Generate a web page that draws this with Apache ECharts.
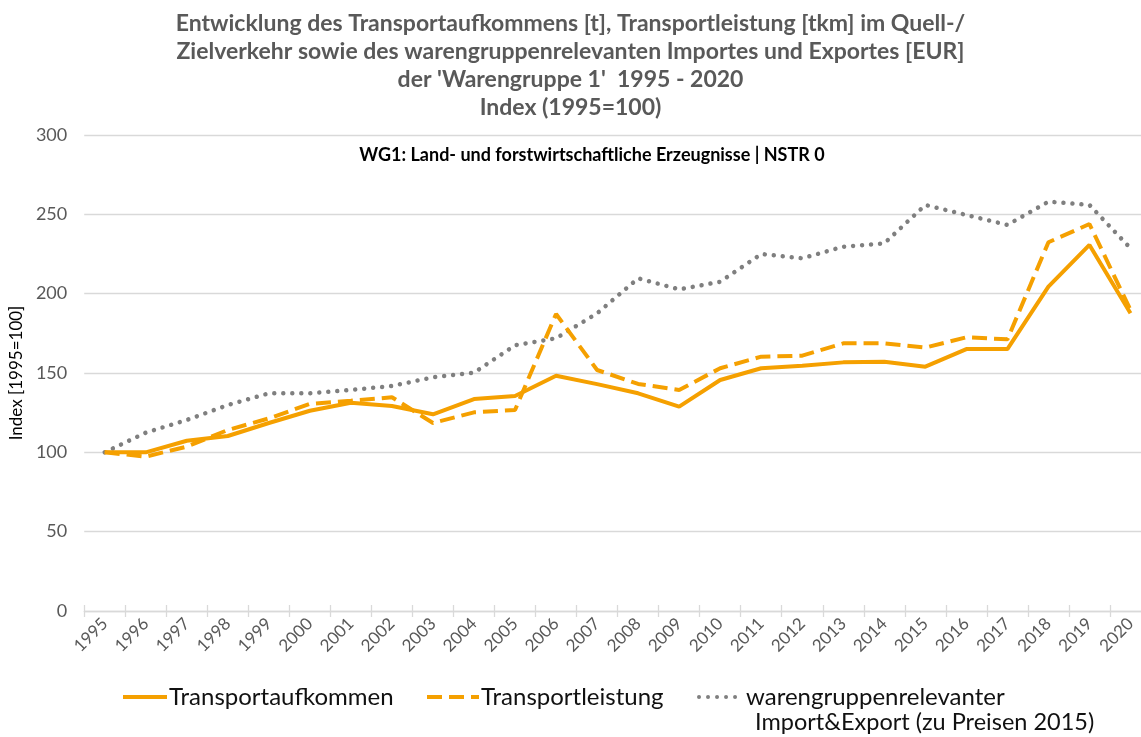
<!DOCTYPE html>
<html>
<head>
<meta charset="utf-8">
<script src="https://cdn.jsdelivr.net/npm/echarts@6/dist/echarts.min.js"></script>
<style>html,body{margin:0;padding:0;background:#fff;overflow:hidden;width:1141px;height:737px}#c{width:1151px;height:737px}</style>
</head>
<body>
<div id="c"></div>
<script>
const years = ['1995','1996','1997','1998','1999','2000','2001','2002','2003','2004','2005','2006','2007','2008','2009','2010','2011','2012','2013','2014','2015','2016','2017','2018','2019','2020'];
const transportaufkommen = [100,100,107.3,110.3,118.5,126.2,131.3,129.2,124,133.6,135.5,148.3,143,137.2,128.8,145.6,153,154.6,156.7,157.1,154,165.1,165.1,204.4,230.7,187.6];
const transportleistung = [100,97.3,103.6,114.1,121.4,130.5,132.5,134.7,118.5,125.2,126.7,187.2,151.9,143.1,139.3,153,160.3,160.9,168.7,168.7,166,172.5,171.2,232.4,243.9,189.7];
const importExport = [100,112.4,120.4,129.8,137.2,137.2,139.3,141.8,147.3,150.2,167.5,171.9,187.6,209.7,202.7,207.5,225,222.3,229.6,231.7,255.9,249.6,243.3,258,255.9,228.6];
const yTicks = [0,50,100,150,200,250,300];
const titleText = "Entwicklung des Transportaufkommens [t], Transportleistung [tkm] im Quell-/\nZielverkehr sowie des warengruppenrelevanten Importes und Exportes [EUR]\nder 'Warengruppe 1'  1995 - 2020\nIndex (1995=100)";
const subtitleText = 'WG1: Land- und forstwirtschaftliche Erzeugnisse | NSTR 0';

const ORANGE = '#F5A000';
const GREY = '#7F7F7F';
const FONT = 'Lato';
const name1 = 'Transportaufkommen';
const name2 = 'Transportleistung';
const name3 = 'warengruppenrelevanter Import&Export (zu Preisen 2015)';

const chart = echarts.init(document.getElementById('c'), null, {renderer:'canvas'});
const legendBase = {
  orient:'horizontal', top: 680, itemHeight: 14, itemGap: 0,
  textStyle:{fontFamily:FONT, fontSize:24, color:'#111', padding:[0,0,0,-3]},
  itemStyle:{opacity:0},
  selectedMode:false
};
chart.setOption({
  animation:false,
  textStyle:{fontFamily:FONT},
  graphic:[
    {type:'text', x:570.5, y:10, style:{text:titleText, fontFamily:FONT, fontWeight:'bold', fontSize:23, fill:'#595959', lineHeight:28, align:'center', verticalAlign:'top'}},
    {type:'text', x:592, y:155, style:{text:subtitleText, fontFamily:FONT, fontWeight:'bold', fontSize:18, fill:'#000', align:'center', verticalAlign:'middle'}},
    {type:'text', x:755, y:722, style:{text:'Import&Export (zu Preisen 2015)', fontFamily:FONT, fontSize:23.5, fill:'#111', align:'left', verticalAlign:'middle'}}
  ],
  legend:[
    Object.assign({}, legendBase, {left:116, itemWidth:44, data:[name1], lineStyle:{width:4}}),
    Object.assign({}, legendBase, {left:420, itemWidth:52, data:[name2], lineStyle:{width:4}}),
    Object.assign({}, legendBase, {left:692, itemWidth:45, data:[name3], lineStyle:{width:4}, formatter:()=> 'warengruppenrelevanter'})
  ],
  grid:{left:76.7, top:135, right:0, bottom:126, containLabel:false},
  xAxis:[{
    type:'category', data:years, boundaryGap:true,
    axisLine:{lineStyle:{color:'#D9D9D9', width:1.3}},
    axisTick:{show:true, length:6, lineStyle:{color:'#D9D9D9', width:1.3}, alignWithLabel:false},
    axisLabel:{rotate:45, interval:0, margin:10, fontFamily:FONT, fontSize:17, color:'#595959'}
  },{
    type:'category', data:years, boundaryGap:true, position:'bottom',
    axisLine:{show:false}, axisLabel:{show:false}, splitLine:{show:false},
    axisTick:{show:true, inside:true, length:6, lineStyle:{color:'#D9D9D9', width:1.3}}
  }],
  yAxis:{
    type:'value', min:0, max:300, interval:50,
    name:'Index [1995=100]', nameLocation:'middle', nameGap:55,
    nameTextStyle:{fontFamily:FONT, fontSize:17, color:'#000'},
    axisLine:{show:false}, axisTick:{show:false},
    axisLabel:{fontFamily:FONT, fontSize:18, color:'#595959', margin:17,
      formatter:(v)=> yTicks.indexOf(v) >= 0 ? String(v) : ''},
    splitLine:{lineStyle:{color:'#D9D9D9', width:1.3}}
  },
  series:[
    {name:name3, type:'line', data:importExport, symbol:'none', z:2,
      lineStyle:{color:GREY, width:4.5, type:[0.01,9], cap:'round'}, itemStyle:{color:GREY}},
    {name:name2, type:'line', data:transportleistung, symbol:'none', z:3,
      lineStyle:{color:ORANGE, width:4, type:[15,7], cap:'butt'}, itemStyle:{color:ORANGE}},
    {name:name1, type:'line', data:transportaufkommen, symbol:'none', z:4,
      lineStyle:{color:ORANGE, width:4}, itemStyle:{color:ORANGE}}
  ]
});
</script>
</body>
</html>
